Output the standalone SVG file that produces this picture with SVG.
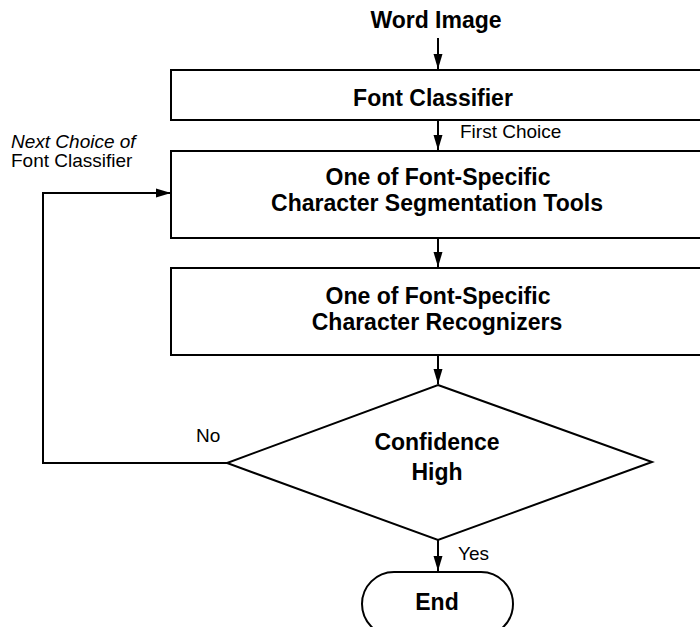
<svg xmlns="http://www.w3.org/2000/svg" width="700" height="627" viewBox="0 0 700 627">
<style>
.box{fill:#fff;stroke:#000;stroke-width:2}
.ln{fill:none;stroke:#000;stroke-width:2}
.t{font-family:"Liberation Sans",Arial,sans-serif;font-weight:bold;font-size:23px;fill:#000;text-anchor:middle}
.s{font-family:"Liberation Sans",Arial,sans-serif;font-size:19px;fill:#000}
</style>
<defs>
<marker id="a" markerUnits="userSpaceOnUse" markerWidth="16" markerHeight="10" refX="15" refY="5" orient="auto" viewBox="0 0 16 10">
<path d="M0,0.5 L15,5 L0,9.5 Z" fill="#000"/>
</marker>
</defs>
<rect width="700" height="627" fill="#fff"/>
<g id="connectors">
<line class="ln" x1="438" y1="38" x2="438" y2="69" marker-end="url(#a)"/>
<line class="ln" x1="438" y1="120" x2="438" y2="150" marker-end="url(#a)"/>
<line class="ln" x1="438" y1="238" x2="438" y2="267" marker-end="url(#a)"/>
<line class="ln" x1="438" y1="355" x2="438" y2="384" marker-end="url(#a)"/>
<line class="ln" x1="438" y1="540" x2="438" y2="571" marker-end="url(#a)"/>
<polyline class="ln" points="227,463 43,463 43,193 171,193" marker-end="url(#a)"/>
<text class="s" x="460" y="138">First Choice</text>
<text class="s" x="196" y="442">No</text>
<text class="s" x="458" y="560">Yes</text>
<text class="s" x="11" y="148" font-style="italic">Next Choice of</text>
<text class="s" x="11" y="167">Font Classifier</text>
</g>
<g id="word-image">
<text class="t" x="436" y="28">Word Image</text>
</g>
<g id="font-classifier">
<rect class="box" x="171" y="70" width="560" height="50"/>
<text class="t" x="433" y="106">Font Classifier</text>
</g>
<g id="segmentation">
<rect class="box" x="171" y="151" width="560" height="87"/>
<text class="t" x="438" y="185">One of Font-Specific</text>
<text class="t" x="437" y="211">Character Segmentation Tools</text>
</g>
<g id="recognizers">
<rect class="box" x="171" y="268" width="560" height="87"/>
<text class="t" x="438" y="304">One of Font-Specific</text>
<text class="t" x="437" y="330">Character Recognizers</text>
</g>
<g id="decision">
<polygon class="box" points="438,385 652,462 438,540 227,463"/>
<text class="t" x="437" y="450">Confidence</text>
<text class="t" x="437" y="480">High</text>
</g>
<g id="end">
<rect class="box" x="362" y="572" width="151" height="64" rx="32" ry="32"/>
<text class="t" x="437" y="610">End</text>
</g>
</svg>
